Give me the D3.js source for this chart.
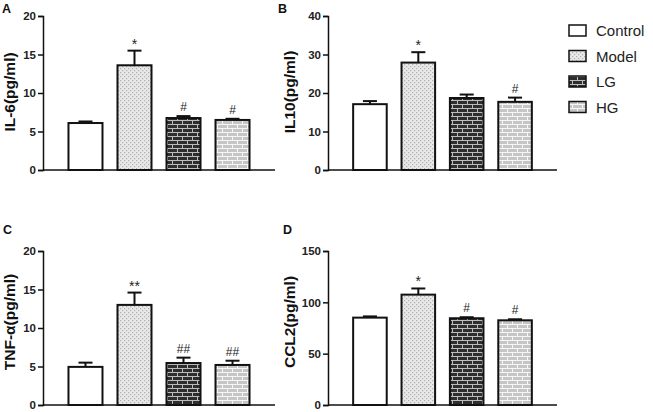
<!DOCTYPE html>
<html><head><meta charset="utf-8">
<script src="https://cdn.jsdelivr.net/npm/d3@7"></script>
<style>body{margin:0;background:#fff}svg{display:block}</style>
</head><body>
<script>
const groups = ["Control", "Model", "LG", "HG"];
const il6Means = [6.1, 13.6, 6.75, 6.5];
const il6Err = [0.2, 1.9, 0.25, 0.15];
const il6Marks = ["", "*", "#", "#"];
const il10Means = [17.1, 27.9, 18.7, 17.7];
const il10Err = [0.8, 2.7, 0.9, 1.1];
const il10Marks = ["", "*", "", "#"];
const tnfMeans = [4.95, 13.0, 5.45, 5.2];
const tnfErr = [0.55, 1.6, 0.7, 0.55];
const tnfMarks = ["", "**", "##", "##"];
const ccl2Means = [85.1, 107.5, 84.5, 82.5];
const ccl2Err = [1.2, 6.0, 1.0, 1.0];
const ccl2Marks = ["", "*", "#", "#"];
const il6Ticks = [0, 5, 10, 15, 20];
const il10Ticks = [0, 10, 20, 30, 40];
const tnfTicks = [0, 5, 10, 15, 20];
const ccl2Ticks = [0, 50, 100, 150];

const W = 653, H = 412;
const svg = d3.select("body").append("svg").attr("width", W).attr("height", H)
  .style("font-family", "Arial, 'Liberation Sans', sans-serif");

// patterns
const defs = svg.append("defs");
const pm = defs.append("pattern").attr("id", "pModel").attr("patternUnits", "userSpaceOnUse")
  .attr("width", 4).attr("height", 4);
pm.append("rect").attr("width", 4).attr("height", 4).attr("fill", "#e8e8e8");
pm.append("rect").attr("x", 0).attr("y", 0).attr("width", 1.2).attr("height", 1.2).attr("fill", "#b0b0b0");
pm.append("rect").attr("x", 2).attr("y", 2).attr("width", 1.2).attr("height", 1.2).attr("fill", "#b0b0b0");
function brick(id, bg, line) {
  const p = defs.append("pattern").attr("id", id).attr("patternUnits", "userSpaceOnUse")
    .attr("width", 10).attr("height", 8);
  p.append("rect").attr("width", 10).attr("height", 8).attr("fill", bg);
  p.append("path").attr("d", "M0,0.5H10M0,4.5H10M2.5,0V4M7.5,4V8")
    .attr("stroke", line).attr("stroke-width", 1).attr("fill", "none");
}
brick("pLG", "#2e2e2e", "#bdbdbd");
brick("pHG", "#c6c6c6", "#f6f6f6");
const fills = ["#ffffff", "url(#pModel)", "url(#pLG)", "url(#pHG)"];

const panels = [
  {label: "A", title: "IL-6(pg/ml)", means: il6Means, err: il6Err, marks: il6Marks, ticks: il6Ticks, max: 20, x0: 43, x1: 275, yTop: 16, yBot: 170, lx: 2, ly: 13, tx: 15, ty: 92},
  {label: "B", title: "IL10(pg/ml)", means: il10Means, err: il10Err, marks: il10Marks, ticks: il10Ticks, max: 40, x0: 328, x1: 557, yTop: 16, yBot: 170, lx: 278, ly: 13, tx: 295, ty: 92},
  {label: "C", title: "TNF-α(pg/ml)", means: tnfMeans, err: tnfErr, marks: tnfMarks, ticks: tnfTicks, max: 20, x0: 43, x1: 275, yTop: 251, yBot: 405, lx: 3, ly: 234, tx: 15, ty: 322},
  {label: "D", title: "CCL2(pg/ml)", means: ccl2Means, err: ccl2Err, marks: ccl2Marks, ticks: ccl2Ticks, max: 150, x0: 328, x1: 557, yTop: 251, yBot: 405, lx: 283, ly: 234, tx: 295, ty: 322}
];

panels.forEach(p => {
  const g = svg.append("g");
  const x = d3.scaleBand().domain(groups).range([p.x0, p.x1]).paddingInner(0.306).paddingOuter(0.52);
  const y = d3.scaleLinear().domain([0, p.max]).range([p.yBot, p.yTop]);

  const ya = g.append("g").attr("transform", `translate(${p.x0},0)`)
    .call(d3.axisLeft(y).tickValues(p.ticks).tickSize(5).tickPadding(2));
  ya.select(".domain").attr("stroke", "#111").attr("stroke-width", 1.5);
  ya.selectAll(".tick line").attr("stroke", "#111").attr("stroke-width", 1.5);
  ya.selectAll(".tick text").attr("font-size", 11.5).attr("font-weight", "bold").attr("fill", "#222")
    .attr("font-family", "Arial, 'Liberation Sans', sans-serif");
  g.append("line").attr("x1", p.x0).attr("x2", p.x1).attr("y1", p.yBot).attr("y2", p.yBot)
    .attr("stroke", "#111").attr("stroke-width", 1.5);

  groups.forEach((k, i) => {
    const bx = x(k), bw = x.bandwidth();
    const top = y(p.means[i]);
    const etop = y(p.means[i] + p.err[i]);
    const cx = bx + bw / 2;
    g.append("line").attr("x1", cx).attr("x2", cx).attr("y1", top).attr("y2", etop)
      .attr("stroke", "#111").attr("stroke-width", 2);
    g.append("line").attr("x1", cx - 7).attr("x2", cx + 7).attr("y1", etop).attr("y2", etop)
      .attr("stroke", "#111").attr("stroke-width", 2);
    g.append("rect").attr("x", bx).attr("y", top).attr("width", bw).attr("height", p.yBot - top)
      .attr("fill", fills[i]).attr("stroke", "#111").attr("stroke-width", 2);
    if (p.marks[i]) {
      const isStar = p.marks[i].includes("*");
      g.append("text").attr("x", cx).attr("y", etop - (isStar ? 2 : 5))
        .attr("text-anchor", "middle").attr("font-size", isStar ? 14 : 12)
        .attr("fill", "#222").text(p.marks[i]);
    }
  });

  g.append("text").attr("transform", `translate(${p.tx},${p.ty}) rotate(-90)`)
    .attr("text-anchor", "middle").attr("font-size", 15.5).attr("font-weight", "bold")
    .attr("fill", "#111").text(p.title);
  g.append("text").attr("x", p.lx).attr("y", p.ly).attr("font-size", 12.5).attr("font-weight", "bold")
    .attr("fill", "#111").text(p.label);
});

const leg = svg.append("g");
groups.forEach((k, i) => {
  const yy = 25 + i * 25.5;
  leg.append("rect").attr("x", 569).attr("y", yy).attr("width", 17).attr("height", 11)
    .attr("fill", fills[i]).attr("stroke", "#111").attr("stroke-width", 1.5);
  leg.append("text").attr("x", 596).attr("y", yy + 11).attr("font-size", 15)
    .attr("fill", "#222").text(k);
});
</script>
</body></html>
